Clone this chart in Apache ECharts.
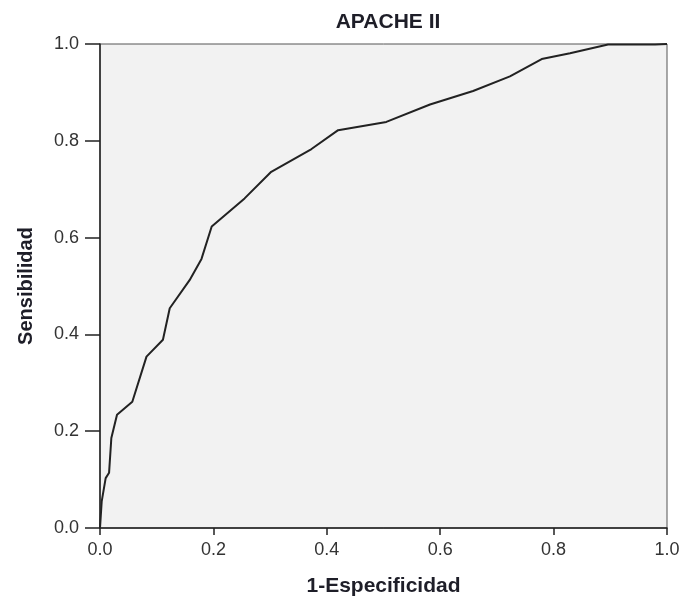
<!DOCTYPE html>
<html>
<head>
<meta charset="utf-8">
<script src="https://cdn.jsdelivr.net/npm/echarts@6/dist/echarts.min.js"></script>
<style>
  html, body { margin: 0; padding: 0; background: #fff; }
  #main { width: 683px; height: 608px; }
</style>
</head>
<body>
<div id="main"></div>
<script>
// Curva ROC
var especificidad1 = [0, 0.003, 0.010, 0.016, 0.020, 0.030, 0.057, 0.082, 0.111, 0.123, 0.158, 0.179, 0.197,
    0.255, 0.302, 0.373, 0.420, 0.505, 0.582, 0.658, 0.723, 0.779, 0.829, 0.896, 0.979, 1.0];
var sensibilidad = [0, 0.055, 0.103, 0.114, 0.186, 0.234, 0.261, 0.354, 0.389, 0.454, 0.512, 0.556, 0.623,
    0.681, 0.736, 0.783, 0.822, 0.839, 0.875, 0.903, 0.933, 0.969, 0.981, 0.999, 0.999, 1.0];
var tickLabels = ['0.0', '0.2', '0.4', '0.6', '0.8', '1.0'];

var myChart = echarts.init(document.getElementById('main'));

var puntos = especificidad1.map(function (x, i) {
    return [x, sensibilidad[i]];
});

var fuente = 'Liberation Sans, Arial, sans-serif';

var option = {
    animation: false,
    title: {
        text: 'APACHE II',
        left: 383,
        top: 7,
        textAlign: 'center',
        textStyle: { fontFamily: fuente, fontSize: 21, fontWeight: 'bold', color: '#1e1e28' }
    },
    grid: {
        left: 100,
        right: 16,
        top: 44,
        bottom: 80,
        show: true,
        backgroundColor: '#f2f2f2',
        borderColor: '#555',
        borderWidth: 1
    },
    xAxis: {
        type: 'value',
        min: 0,
        max: 1,
        interval: 0.2,
        name: '1-Especificidad',
        nameLocation: 'middle',
        nameGap: 48,
        nameTextStyle: { fontFamily: fuente, fontSize: 21, fontWeight: 'bold', color: '#1e1e28' },
        axisLine: { show: true, lineStyle: { color: '#222', width: 1.5 } },
        axisTick: { show: true, length: 7, lineStyle: { color: '#222', width: 1.5 } },
        axisLabel: {
            margin: 13,
            fontFamily: fuente, fontSize: 18, color: '#333',
            formatter: function (v) { return tickLabels[Math.round(v * 5)]; }
        },
        splitLine: { show: false }
    },
    yAxis: {
        type: 'value',
        min: 0,
        max: 1,
        interval: 0.2,
        name: 'Sensibilidad',
        nameLocation: 'middle',
        nameGap: 64,
        nameTextStyle: { fontFamily: fuente, fontSize: 20, fontWeight: 'bold', color: '#1e1e28' },
        axisLine: { show: true, lineStyle: { color: '#222', width: 1.5 } },
        axisTick: { show: true, length: 15, lineStyle: { color: '#222', width: 1.5 } },
        axisLabel: {
            margin: 21,
            fontFamily: fuente, fontSize: 18, color: '#333',
            formatter: function (v) { return tickLabels[Math.round(v * 5)]; }
        },
        splitLine: { show: false }
    },
    series: [{
        type: 'line',
        data: puntos,
        showSymbol: false,
        lineStyle: { color: '#222', width: 2 },
        z: 3
    }]
};

option && myChart.setOption(option);
</script>
</body>
</html>
